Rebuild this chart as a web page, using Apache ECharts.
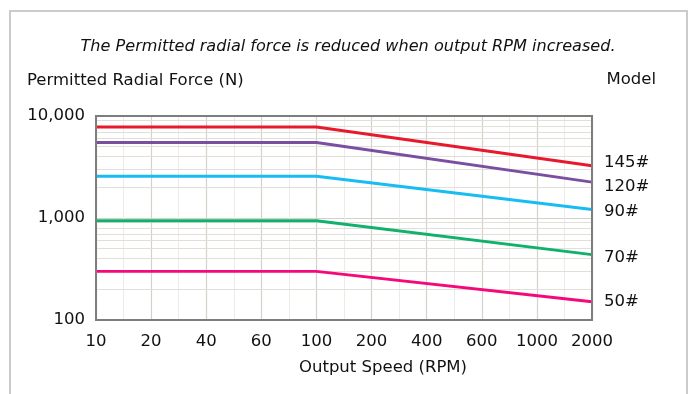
<!DOCTYPE html>
<html>
<head>
<meta charset="utf-8">
<script src="https://cdn.jsdelivr.net/npm/echarts@6/dist/echarts.min.js"></script>
<style>
html,body{margin:0;padding:0;background:#fff;}
#c{width:694px;height:394px;}
</style>
</head>
<body>
<div id="c"></div>
<script>
const categories = ['10','20','40','60','100','200','400','600','1000','2000'];
const models = ['145#','120#','90#','70#','50#'];
const force145 = [7800, 7800, 7800, 7800, 7800, null, null, null, null, 3250];
const force120 = [5500, 5500, 5500, 5500, 5500, null, null, null, null, 2250];
const force90  = [2570, 2570, 2570, 2570, 2570, null, null, null, null, 1210];
const force70  = [940, 940, 940, 940, 940, null, null, null, null, 437];
const force50  = [300, 300, 300, 300, 300, null, null, null, null, 151];
const yTicks = [100, 1000, 10000];
const minorY = [200,300,400,500,600,700,800,900,2000,3000,4000,5000,6000,7000,8000,9000];

const FONT = '"DejaVu Sans"';
const FS = 16.5;
const colors = ['#e8192c', '#7b4f9f', '#17bdf2', '#10b26b', '#f5087b'];
const seriesData = [force145, force120, force90, force70, force50];
const labelOffsets = [[7, -3], [7, 5], [7, 2], [7, 3], [7, 0]];

const series = seriesData.map((arr, k) => ({
  type: 'line',
  name: models[k],
  data: arr.map((v, i) => v == null ? null : [i, v]).filter(d => d),
  connectNulls: true,
  showSymbol: false,
  symbol: 'none',
  z: 5,
  lineStyle: { color: colors[k], width: 2.9 },
  endLabel: {
    show: true,
    formatter: models[k],
    color: '#111',
    fontFamily: FONT,
    fontSize: FS,
    offset: labelOffsets[k],
    distance: 5
  },
  emphasis: { disabled: true },
  animation: false
}));

series.push({
  type: 'line',
  data: [],
  markLine: {
    silent: true,
    symbol: 'none',
    label: { show: false },
    animation: false,
    lineStyle: { color: '#e2dfda', width: 1.2, type: 'solid' },
    data: minorY.map(v => ({ yAxis: v }))
  },
  z: 1
});

const chart = echarts.init(document.getElementById('c'), null, { renderer: 'canvas' });
chart.setOption({
  animation: false,
  backgroundColor: '#fff',
  grid: {
    left: 96, right: 102, top: 116, bottom: 74,
    show: true, borderColor: '#7d7d7d', borderWidth: 2, backgroundColor: 'transparent', z: 10
  },
  xAxis: {
    type: 'value',
    min: 0, max: categories.length - 1, interval: 1,
    axisLine: { show: false },
    axisTick: { show: false },
    axisLabel: {
      formatter: v => categories[v] ?? '',
      color: '#111', fontFamily: FONT, fontSize: FS, margin: 13
    },
    splitLine: { show: true, lineStyle: { color: '#d4d0ca', width: 1.2 } },
    minorTick: { show: false, splitNumber: 2 },
    minorSplitLine: { show: true, lineStyle: { color: '#eeebe7', width: 1 } }
  },
  yAxis: {
    type: 'log',
    logBase: 10,
    min: yTicks[0], max: yTicks[yTicks.length - 1],
    axisLine: { show: false },
    axisTick: { show: false },
    axisLabel: {
      formatter: v => Number(v).toLocaleString('en-US'),
      color: '#111', fontFamily: FONT, fontSize: FS, margin: 11
    },
    splitLine: { show: true, lineStyle: { color: '#d4d0ca', width: 1.2 } }
  },
  graphic: [
    { type: 'rect', shape: { x: 10, y: 11, width: 677, height: 400 },
      style: { fill: 'none', stroke: '#cbcbcb', lineWidth: 2 }, silent: true },
    { type: 'text', x: 348, y: 47, style: { text: 'The Permitted radial force is reduced when output RPM increased.',
      fontFamily: FONT, fontStyle: 'italic', fontSize: 16.1, fill: '#111', align: 'center', verticalAlign: 'middle' } },
    { type: 'text', x: 27, y: 81, style: { text: 'Permitted Radial Force (N)',
      fontFamily: FONT, fontSize: FS, fill: '#111', align: 'left', verticalAlign: 'middle' } },
    { type: 'text', x: 656, y: 80, style: { text: 'Model',
      fontFamily: FONT, fontSize: FS, fill: '#111', align: 'right', verticalAlign: 'middle' } },
    { type: 'text', x: 383, y: 368, style: { text: 'Output Speed (RPM)',
      fontFamily: FONT, fontSize: FS, fill: '#111', align: 'center', verticalAlign: 'middle' } }
  ],
  series: series
});
</script>
</body>
</html>
